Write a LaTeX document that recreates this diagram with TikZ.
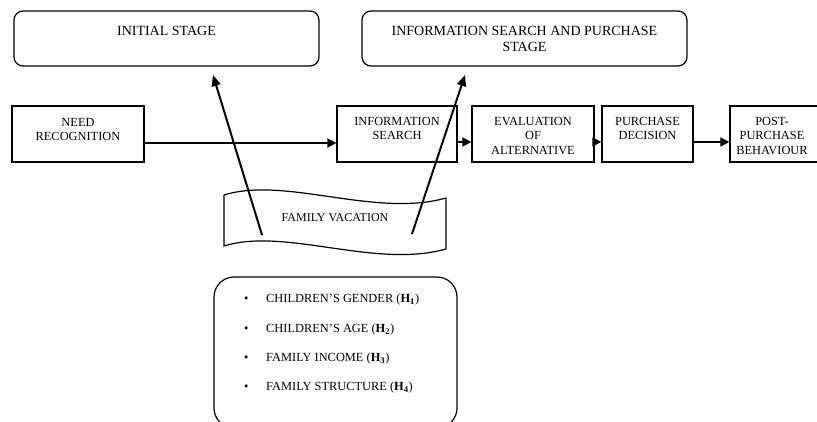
\documentclass[tikz,border=0pt]{standalone}
\usepackage{fontspec}
\setmainfont{Liberation Serif}
\usetikzlibrary{arrows.meta}
\begin{document}
\begin{tikzpicture}[x=1pt,y=-1pt,
 procbox/.style={draw, line width=1.3pt, minimum width=#1, minimum height=56pt, inner sep=0pt},
 stagebox/.style={draw, line width=1.2pt, rounded corners=9pt, inner sep=0pt, minimum height=55pt, minimum width=#1},
 txt/.style={font=\fontsize{12.4}{14.5}\selectfont, align=center, anchor=north, inner sep=0pt},
 stxt/.style={font=\fontsize{14}{16.5}\selectfont, align=center, anchor=north, inner sep=0pt},
 btxt/.style={font=\fontsize{12.4}{14.5}\selectfont, anchor=west, inner sep=0pt},
 flow/.style={line width=1.8pt, -{Triangle[length=9pt,width=9pt]}},
 infl/.style={line width=2pt, -{Triangle[length=11pt,width=9pt]}},
]
\useasboundingbox (0,0) rectangle (817,421);
\clip (0,0) rectangle (817,421);
\fill[white] (0,0) rectangle (817,421);

% stage boxes
\node[stagebox=305pt] (init) at (166.5,38.5) {};
\node[stxt] (initT) at (166.5,26) {INITIAL STAGE};
\node[stagebox=325pt] (iss) at (524.5,38.5) {};
\node[stxt] (issT) at (524.5,26) {INFORMATION SEARCH AND PURCHASE\\STAGE};

% process boxes
\node[procbox=132pt] (need) at (78,134) {};
\node[txt] (needT) at (78,118) {NEED\\RECOGNITION};
\node[procbox=120pt] (info) at (397,134) {};
\node[txt] (infoT) at (397,117) {INFORMATION\\SEARCH};
\node[procbox=122pt] (eval) at (533,134) {};
\node[txt] (evalT) at (533,117) {EVALUATION\\OF\\ALTERNATIVE};
\node[procbox=91pt] (pd) at (647.5,134) {};
\node[txt] (pdT) at (647.5,117) {PURCHASE\\DECISION};
\node[procbox=94pt] (post) at (777,134) {};
\node[txt] (postT) at (772,117) {POST-\\PURCHASE\\BEHAVIOUR};

\draw[flow] (need.east |- 0,143) -- (info.west |- 0,143);
\draw[flow] (info.east |- 0,142) -- (eval.west |- 0,142);
\draw[flow] (eval.east |- 0,142) -- (pd.west |- 0,142);
\draw[flow] (pd.east |- 0,142) -- (post.west |- 0,142);

% family vacation banner
\draw[line width=1.2pt] (224,195) .. controls (285,176) and (375,218) .. (446,198)
  -- (446,249) .. controls (375,269) and (285,227) .. (224,246) -- cycle;
\node[font=\fontsize{12}{14}\selectfont, inner sep=0pt] (fv) at (335,218) {FAMILY VACATION};

\coordinate (a1s) at (262,235);
\coordinate (a1e) at (213,75);
\coordinate (a2s) at (412,234);
\coordinate (a2e) at (465,75);
\draw[infl] (a1s) -- (a1e);
\draw[infl] (a2s) -- (a2e);

% factors box
\draw[line width=1.2pt, rounded corners=20pt] (214,277) rectangle (457,428);
\node[btxt] (b1) at (244,300) {\textbullet};
\node[btxt] (t1) at (266,300) {CHILDREN’S GENDER (\textbf{H\textsubscript{1}})};
\node[btxt] (b2) at (244,330) {\textbullet};
\node[btxt] (t2) at (266,330) {CHILDREN’S AGE (\textbf{H\textsubscript{2}})};
\node[btxt] (b3) at (244,359) {\textbullet};
\node[btxt] (t3) at (266,359) {FAMILY INCOME (\textbf{H\textsubscript{3}})};
\node[btxt] (b4) at (244,388) {\textbullet};
\node[btxt] (t4) at (266,388) {FAMILY STRUCTURE (\textbf{H\textsubscript{4}})};
\end{tikzpicture}
\end{document}
